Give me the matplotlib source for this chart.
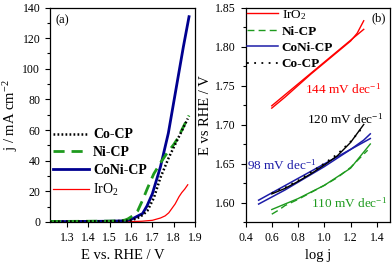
import matplotlib

matplotlib.use("Agg")
import matplotlib.pyplot as plt
from matplotlib.ticker import MultipleLocator

plt.rcParams["font.family"] = ["Liberation Serif", "DejaVu Serif"]
plt.rcParams["mathtext.fontset"] = "custom"
plt.rcParams["mathtext.rm"] = "Liberation Serif"
plt.rcParams["mathtext.it"] = "Liberation Serif:italic"
plt.rcParams["mathtext.bf"] = "Liberation Serif:bold"

# panel (a): polarisation curves
co_e = [1.22, 1.30, 1.40, 1.50, 1.56, 1.60, 1.631, 1.655, 1.677, 1.707, 1.738, 1.777, 1.815, 1.84, 1.866]
co_j = [0.2, 0.3, 0.4, 0.5, 0.7, 1.0, 2.6, 4.6, 7.4, 15.7, 29.0, 42.0, 53.0, 60.0, 67.5]

ni_e = [1.22, 1.30, 1.40, 1.50, 1.55, 1.57, 1.585, 1.61, 1.631, 1.655, 1.677, 1.707, 1.74, 1.769, 1.80, 1.821, 1.845, 1.872]
ni_j = [0.4, 0.4, 0.5, 0.6, 0.8, 1.2, 2.0, 4.2, 7.2, 14.5, 22.0, 31.5, 39.0, 45.0, 50.5, 55.0, 62.0, 69.5]

coni_e = [1.22, 1.30, 1.40, 1.50, 1.55, 1.57, 1.59, 1.61, 1.63, 1.654, 1.675, 1.70, 1.738, 1.775, 1.815, 1.845, 1.872]
coni_j = [0.3, 0.3, 0.4, 0.5, 0.7, 0.9, 1.3, 2.3, 3.8, 5.5, 10.5, 18.4, 36.0, 58.0, 90.0, 114.0, 134.0]

iro2_e = [1.22, 1.40, 1.50, 1.60, 1.65, 1.70, 1.738, 1.76, 1.777, 1.807, 1.825, 1.838, 1.852, 1.866]
iro2_j = [0.1, 0.15, 0.2, 0.3, 0.5, 1.1, 2.6, 4.0, 6.0, 11.8, 16.5, 19.2, 21.5, 24.3]

# panel (b): Tafel plots (data and fitted lines)
iro2_logj = [0.6, 0.7, 0.8, 0.9, 1.0, 1.1, 1.2, 1.25, 1.3]
iro2_tafel = [1.721, 1.735, 1.750, 1.765, 1.779, 1.793, 1.807, 1.817, 1.833]
iro2_fit_x = [0.6, 1.3]
iro2_fit_y = [1.724, 1.822]

ni_logj = [0.6, 0.65, 0.7, 0.8, 0.9, 1.0, 1.1, 1.2, 1.3, 1.33]
ni_tafel = [1.585, 1.590, 1.596, 1.604, 1.613, 1.622, 1.632, 1.645, 1.662, 1.667]
ni_fit_x = [0.6, 0.8, 1.0, 1.2, 1.35]
ni_fit_y = [1.591, 1.605, 1.622, 1.644, 1.675]

coni_logj = [0.5, 0.6, 0.7, 0.8, 0.9, 1.0, 1.1, 1.2, 1.3, 1.35]
coni_tafel = [1.598, 1.607, 1.616, 1.626, 1.636, 1.646, 1.657, 1.668, 1.680, 1.688]
coni_fit_x = [0.5, 1.35]
coni_fit_y = [1.603, 1.682]

co_logj = [0.6, 0.7, 0.8, 0.9, 1.0, 1.1, 1.2, 1.27, 1.3]
co_tafel = [1.612, 1.619, 1.628, 1.639, 1.650, 1.662, 1.678, 1.692, 1.698]
co_fit_x = [0.6, 0.7, 0.8, 0.9, 1.0, 1.1, 1.2, 1.3]
co_fit_y = [1.611, 1.618, 1.627, 1.637, 1.648, 1.660, 1.677, 1.700]

NAVY = "#000090"
GREEN = "#1e9a1e"
BLUE = "#1c1ca8"
RED = "#ff0000"


def style_axis(axis):
    axis.tick_params(which="both", direction="out", labelsize=8.5, width=0.8)
    axis.tick_params(which="major", length=3.5)
    axis.tick_params(which="minor", length=2)
    axis.tick_params(top=False, right=False)
    for spine in axis.spines.values():
        spine.set_linewidth(0.9)


figure = plt.figure(figsize=(3.92, 2.66), dpi=100)
H = 266.0
W = 392.0
ax_a = figure.add_axes([50 / W, (H - 222) / H, 145 / W, 214.5 / H])
ax_b = figure.add_axes([245.5 / W, (H - 222) / H, 144.5 / W, 214.5 / H])

ax_a.plot(iro2_e, iro2_j, color=RED, lw=0.9, label="IrO$_2$", zorder=2)
ax_a.plot(coni_e, coni_j, color=NAVY, lw=2.0, label="CoNi-CP", zorder=3)
ax_a.plot(ni_e, ni_j, color=GREEN, lw=2.0, ls=(0, (4, 2.5)), label="Ni-CP", zorder=4)
ax_a.plot(co_e, co_j, color="black", lw=1.8, ls=(0, (0.7, 0.9)), label="Co-CP", zorder=5)
ax_a.set_xlim(1.22, 1.9)
ax_a.set_ylim(0, 140)
ax_a.xaxis.set_major_locator(MultipleLocator(0.1))
ax_a.yaxis.set_major_locator(MultipleLocator(20))
ax_a.yaxis.set_minor_locator(MultipleLocator(10))
style_axis(ax_a)
ax_a.set_xlabel("E vs. RHE / V", fontsize=10.5, labelpad=4)
ax_a.set_ylabel("j / mA cm$^{-2}$", fontsize=10.5, labelpad=2)
ax_a.text(0.035, 0.94, "(a)", transform=ax_a.transAxes, fontsize=9, ha="left", va="center")

handles, labels = ax_a.get_legend_handles_labels()
order = [3, 2, 1, 0]
leg_a = ax_a.legend(
    [handles[i] for i in order],
    [labels[i] for i in order],
    loc="center left",
    bbox_to_anchor=(0.0, 0.275),
    frameon=False,
    prop={"size": 10, "weight": "bold"},
    handlelength=2.6,
    handletextpad=0.3,
    labelspacing=0.34,
    borderpad=0.2,
    borderaxespad=0.0,
)
leg_a.get_texts()[3].set_fontweight("normal")

ax_b.plot(iro2_logj, iro2_tafel, color=RED, lw=1.0, label="IrO$_2$")
ax_b.plot(iro2_fit_x, iro2_fit_y, color=RED, lw=1.0)
ax_b.plot(ni_logj, ni_tafel, color=GREEN, lw=1.0, ls=(0, (5, 3)), label="Ni-CP")
ax_b.plot(ni_fit_x, ni_fit_y, color=GREEN, lw=1.0)
ax_b.plot(coni_logj, coni_tafel, color=BLUE, lw=1.1, label="CoNi-CP")
ax_b.plot(coni_fit_x, coni_fit_y, color=BLUE, lw=1.1)
ax_b.plot(co_fit_x, co_fit_y, color="black", lw=1.0)
ax_b.plot(co_logj, co_tafel, color="black", lw=1.3, ls=(0, (1, 3)), label="Co-CP")
ax_b.set_xlim(0.4, 1.5)
ax_b.set_ylim(1.575, 1.85)
ax_b.xaxis.set_major_locator(MultipleLocator(0.2))
ax_b.yaxis.set_major_locator(MultipleLocator(0.05))
ax_b.yaxis.set_minor_locator(MultipleLocator(0.025))
ax_b.xaxis.set_major_formatter(matplotlib.ticker.FormatStrFormatter("%.1f"))
ax_b.yaxis.set_major_formatter(matplotlib.ticker.FormatStrFormatter("%.2f"))
style_axis(ax_b)
ax_b.set_xlabel("log j", fontsize=10.5, labelpad=4)
ax_b.set_ylabel("E vs RHE / V", fontsize=10.5, labelpad=2)
ax_b.text(0.972, 0.95, "(b)", transform=ax_b.transAxes, fontsize=9, ha="right", va="center")

ax_b.text(0.854, 1.7445, "144 mV dec$^{-1}$", color=RED, fontsize=9.5, ha="left", va="center")
ax_b.text(0.87, 1.7073, "120 mV dec$^{-1}$", color="black", fontsize=9.5, ha="left", va="center")
ax_b.text(0.41, 1.648, "98 mV dec$^{-1}$", color=BLUE, fontsize=9.5, ha="left", va="center")
ax_b.text(0.90, 1.5996, "110 mV dec$^{-1}$", color=GREEN, fontsize=9.5, ha="left", va="center")

leg_b = ax_b.legend(
    loc="center left",
    bbox_to_anchor=(0.0, 0.853),
    frameon=False,
    prop={"size": 9.5, "weight": "bold"},
    handlelength=2.4,
    handletextpad=0.25,
    labelspacing=0.3,
    borderpad=0.1,
    borderaxespad=0.0,
)
leg_b.get_texts()[0].set_fontweight("normal")

figure.savefig("out.png", dpi=100)
plt.close(figure)
